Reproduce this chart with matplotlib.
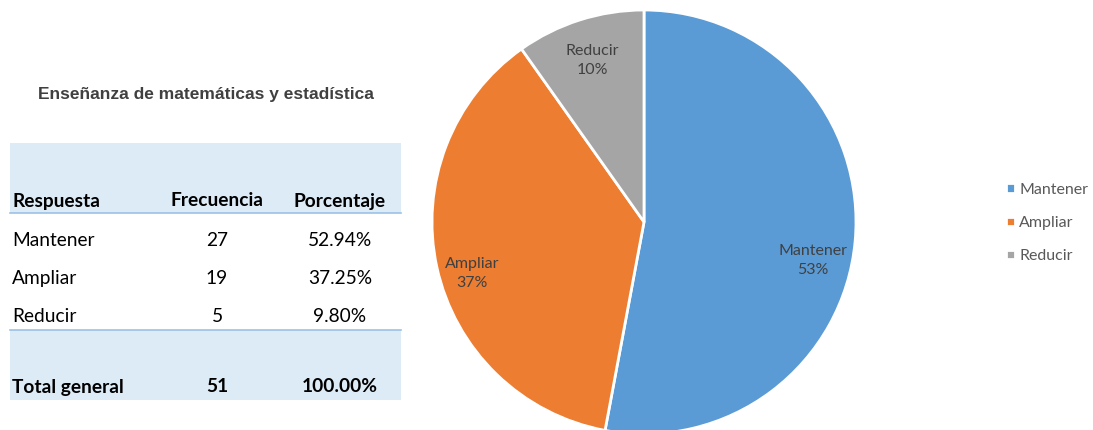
import matplotlib
matplotlib.use("Agg")
import matplotlib.pyplot as plt
from matplotlib.patches import Rectangle
import numpy as np

# datos de la tabla / grafico
respuestas = ["Mantener", "Ampliar", "Reducir"]
frecuencias = [27, 19, 5]
porcentajes = ["52.94%", "37.25%", "9.80%"]
total_frec = 51
total_pct = "100.00%"
colores = ["#5B9BD5", "#ED7D31", "#A5A5A5"]

W, H = 1093, 430
fig = plt.figure(figsize=(W / 100, H / 100), dpi=100)

# ---- tabla (izquierda), coordenadas en pixeles de la figura ----
tab = fig.add_axes([0, 0, 1, 1])
tab.set_xlim(0, W)
tab.set_ylim(H, 0)
tab.axis("off")

TXT = "#000000"
font_tab = "Lato"
tab.text(206, 95, "Enseñanza de matemáticas y estadística", ha="center", va="center",
         fontsize=12.5, fontweight="bold", color="#404040", family="Liberation Sans")

tab.add_patch(Rectangle((10, 143), 391, 70, color="#DDEBF7", lw=0))
tab.add_patch(Rectangle((10, 330), 391, 70, color="#DDEBF7", lw=0))
tab.plot([10, 401], [213, 213], color="#9BC2E6", lw=1.2)
tab.plot([10, 401], [330, 330], color="#9BC2E6", lw=1.2)

x_col = [12, 217, 340]
fs = 13.8
tab.text(x_col[0], 201, "Respuesta", ha="left", va="center", fontsize=fs, fontweight="bold", family=font_tab)
tab.text(x_col[1], 201, "Frecuencia", ha="center", va="center", fontsize=fs, fontweight="bold", family=font_tab)
tab.text(x_col[2], 201, "Porcentaje", ha="center", va="center", fontsize=fs, fontweight="bold", family=font_tab)
for i, (r, f, p) in enumerate(zip(respuestas, frecuencias, porcentajes)):
    y = 240 + i * 38.5
    tab.text(x_col[0], y, r, ha="left", va="center", fontsize=fs, family=font_tab, color=TXT)
    tab.text(x_col[1], y, str(f), ha="center", va="center", fontsize=fs, family=font_tab, color=TXT)
    tab.text(x_col[2], y, p, ha="center", va="center", fontsize=fs, family=font_tab, color=TXT)
tab.text(x_col[0], 387, "Total general", ha="left", va="center", fontsize=fs, fontweight="bold", family=font_tab)
tab.text(x_col[1], 387, str(total_frec), ha="center", va="center", fontsize=fs, fontweight="bold", family=font_tab)
tab.text(x_col[2], 387, total_pct, ha="center", va="center", fontsize=fs, fontweight="bold", family=font_tab)

# ---- pastel ----
cx, cy, r = 644, 430 - 222, 212
ax = fig.add_axes([(cx - r) / W, (cy - r) / H, 2 * r / W, 2 * r / H])
wedges, _ = ax.pie(frecuencias, colors=colores, startangle=90, counterclock=False,
                   wedgeprops=dict(edgecolor="white", linewidth=2), radius=1)
ax.set_xlim(-1, 1)
ax.set_ylim(-1, 1)
ax.set_aspect("equal")
ax.axis("off")

# ajuste de posicion de etiquetas (tipo "best fit" de Excel)
ajustes = [(0.0, -0.11), (-0.03, -0.07), (0.0, 0.0)]
total = sum(frecuencias)
for w, nombre, f, (dx, dy) in zip(wedges, respuestas, frecuencias, ajustes):
    ang = np.deg2rad((w.theta1 + w.theta2) / 2)
    ax.text(0.8 * np.cos(ang) + dx, 0.8 * np.sin(ang) + dy, f"{nombre}\n{f / total * 100:.0f}%",
            ha="center", va="center", fontsize=11.5, color="#404040", family=font_tab,
            linespacing=1.45)

leg = fig.legend(wedges, respuestas, loc="center left", bbox_to_anchor=(992 / W, 1 - 223 / H),
                 frameon=False, handlelength=0.55, handleheight=0.55,
                 handletextpad=0.25, labelspacing=1.2, labelcolor="#595959",
                 prop={"family": font_tab, "size": 11.5})

fig.savefig("out.png", dpi=100)
